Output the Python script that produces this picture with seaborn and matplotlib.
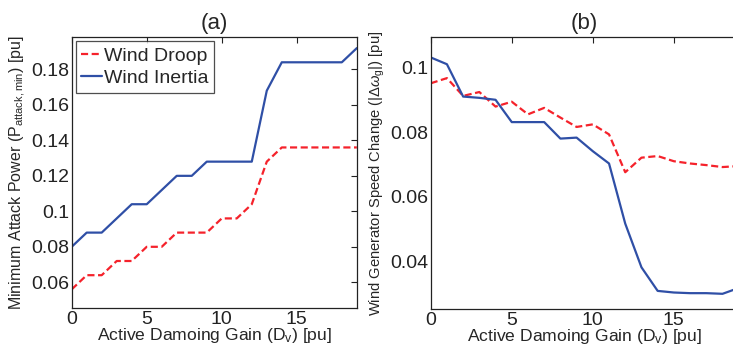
import matplotlib
matplotlib.use("Agg")
import matplotlib.pyplot as plt
import numpy as np
import pandas as pd
import seaborn as sns

# Active damping gain values (pu)
gain = list(range(20))

# (a) minimum attack power (pu)
attack_droop = [0.056, 0.064, 0.064, 0.072, 0.072, 0.080, 0.080, 0.088, 0.088, 0.088,
                0.096, 0.096, 0.104, 0.128, 0.136, 0.136, 0.136, 0.136, 0.136, 0.136]
attack_inertia = [0.080, 0.088, 0.088, 0.096, 0.104, 0.104, 0.112, 0.120, 0.120, 0.128,
                  0.128, 0.128, 0.128, 0.168, 0.184, 0.184, 0.184, 0.184, 0.184, 0.192]

# (b) wind generator speed change (pu)
speed_droop = [0.0951, 0.0967, 0.0912, 0.0924, 0.0879, 0.0894, 0.0855, 0.0875, 0.0845, 0.0816,
               0.0824, 0.0793, 0.0676, 0.0721, 0.0726, 0.0710, 0.0703, 0.0698, 0.0692, 0.0695]
speed_inertia = [0.1031, 0.1010, 0.0910, 0.0906, 0.0900, 0.0831, 0.0831, 0.0831, 0.0780, 0.0783,
                 0.0741, 0.0703, 0.0517, 0.0382, 0.0309, 0.0304, 0.0302, 0.0302, 0.0300, 0.0318]

series_names = ["Wind Droop", "Wind Inertia"]

sns.set_style("white")
plt.rcParams["font.family"] = ["Liberation Sans", "DejaVu Sans"]
plt.rcParams["mathtext.fontset"] = "custom"
plt.rcParams["mathtext.rm"] = "Liberation Sans"
plt.rcParams["mathtext.it"] = "Liberation Sans:italic"
plt.rcParams["mathtext.sf"] = "Liberation Sans"

palette = {"Wind Droop": "#f5222b", "Wind Inertia": "#2f4fa6"}
dashes = {"Wind Droop": (3.2, 1.6), "Wind Inertia": ""}

def long_frame(y1, y2):
    return pd.DataFrame({
        "gain": gain * 2,
        "value": list(y1) + list(y2),
        "series": [series_names[0]] * len(gain) + [series_names[1]] * len(gain),
    })

fig = plt.figure(figsize=(7.33, 3.56), dpi=100)
ax_a = fig.add_axes([0.0978, 0.1348, 0.389, 0.760])
ax_b = fig.add_axes([0.5876, 0.1320, 0.4202, 0.763])

sns.lineplot(data=long_frame(attack_droop, attack_inertia), x="gain", y="value",
             hue="series", style="series", palette=palette, dashes=dashes,
             linewidth=1.6, ax=ax_a)
sns.lineplot(data=long_frame(speed_droop, speed_inertia), x="gain", y="value",
             hue="series", style="series", palette=palette, dashes=dashes,
             linewidth=1.6, ax=ax_b, legend=False)

tick_fs = 14
label_fs = 12.6

ax_a.set_xlim(0, 19)
ax_a.set_ylim(0.0455, 0.198)
ax_a.set_yticks([0.06, 0.08, 0.1, 0.12, 0.14, 0.16, 0.18])
ax_a.set_yticklabels(["0.06", "0.08", "0.1", "0.12", "0.14", "0.16", "0.18"])
ax_a.set_title("(a)", fontsize=16, pad=6)
ax_a.set_ylabel(r"Minimum Attack Power (P$_\mathregular{attack,min}$) [pu]", fontsize=11.5, labelpad=2)

ax_b.set_xlim(0, 19)
ax_b.set_ylim(0.0253, 0.1093)
ax_b.set_yticks([0.04, 0.06, 0.08, 0.1])
ax_b.set_yticklabels(["0.04", "0.06", "0.08", "0.1"])
ax_b.set_title("(b)", x=0.5, fontsize=16, pad=6)
ax_b.set_ylabel(r"Wind Generator Speed Change (|$\Delta\omega_\mathregular{g}$|) [pu]", fontsize=10.6, labelpad=2)

for ax in (ax_a, ax_b):
    ax.set_xticks([0, 5, 10, 15])
    ax.set_xlabel(r"Active Damoing Gain (D$_\mathregular{v}$) [pu]", fontsize=label_fs, labelpad=-1)
    ax.tick_params(direction="in", length=4, width=0.8, top=True, right=True,
                   labelsize=tick_fs, colors="#222222", pad=2)
    for sp in ax.spines.values():
        sp.set_color("#222222")
        sp.set_linewidth(0.9)
    ax.set_facecolor("white")

leg = ax_a.legend(loc="upper left", fontsize=14, frameon=True, fancybox=False,
                  borderaxespad=0.2, handlelength=1.05, handletextpad=0.1,
                  borderpad=0.3, labelspacing=0.25)
leg.get_frame().set_edgecolor("#222222")
leg.get_frame().set_linewidth(0.9)
leg.set_title(None)

fig.savefig("out.png", dpi=100)
